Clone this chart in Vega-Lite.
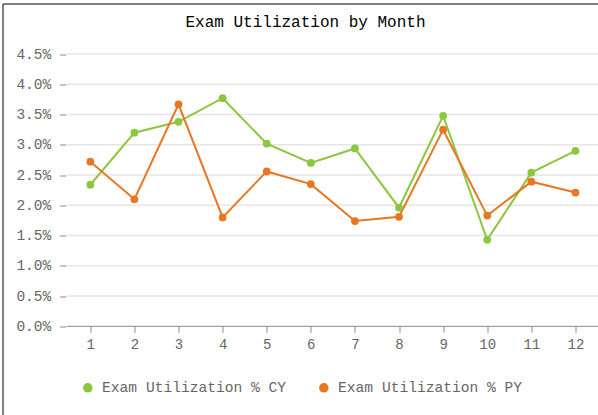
{
  "$schema": "https://vega.github.io/schema/vega-lite/v6.json",
  "autosize": {"type": "none"},
  "padding": {"left": 2.5, "top": 3.5, "right": -4.5, "bottom": -4.5},
  "width": 600,
  "height": 416,
  "background": "white",
  "title": {
    "text": "Exam Utilization by Month",
    "font": "Liberation Mono",
    "fontSize": 16,
    "fontWeight": "normal",
    "color": "#000000",
    "anchor": "middle",
    "baseline": "alphabetic",
    "offset": -39,
    "dx": 3
  },
  "config": {
    "view": {"stroke": "#000000", "strokeWidth": 1},
    "legend": {
      "symbolType": "circle",
      "labelFont": "Liberation Mono",
      "labelFontSize": 14.6,
      "labelColor": "#666666",
      "labelLimit": 0,
      "symbolSize": 90,
      "symbolStrokeWidth": 0,
      "labelOffset": 7,
      "columnPadding": 30,
      "padding": 0
    }
  },
  "layer": [
    {
      "data": {"values": [
        {"g": 0.005}, {"g": 0.01}, {"g": 0.015}, {"g": 0.02}, {"g": 0.025},
        {"g": 0.03}, {"g": 0.035}, {"g": 0.04}, {"g": 0.045}
      ]},
      "mark": {"type": "rule", "color": "#e6e6e6", "strokeWidth": 1.5},
      "encoding": {
        "y": {"field": "g", "type": "quantitative", "title": null,
              "scale": {"domain": [-0.015405, 0.053355], "nice": false, "zero": false}},
        "x": {"datum": 0.46, "type": "quantitative", "scale": {"domain": [-0.991, 12.614], "nice": false, "zero": false}},
        "x2": {"datum": 12.614}
      }
    },
    {
      "data": {"values": [{"z": 0}]},
      "mark": {"type": "rule", "color": "#888888", "strokeWidth": 1},
      "encoding": {
        "y": {"field": "z", "type": "quantitative", "title": null,
              "scale": {"domain": [-0.015405, 0.053355], "nice": false, "zero": false}},
        "x": {"datum": 0.46, "type": "quantitative", "scale": {"domain": [-0.991, 12.614], "nice": false, "zero": false}},
        "x2": {"datum": 12.614}
      }
    },
    {
      "data": {"name": "series"},
      "layer": [
        {
          "mark": {"type": "line", "strokeWidth": 2},
          "encoding": {
            "x": {"field": "month", "type": "quantitative", "title": null,
                  "scale": {"domain": [-0.991, 12.614], "nice": false, "zero": false},
                  "axis": {"orient": "bottom", "offset": -93.2, "values": [1,2,3,4,5,6,7,8,9,10,11,12], "format": "d",
                           "domain": false, "grid": false, "ticks": true, "tickSize": 6, "tickColor": "#888888",
                           "labelFont": "Liberation Mono", "labelFontSize": 14, "labelColor": "#666666", "labelPadding": 5}},
            "y": {"field": "value", "type": "quantitative", "title": null,
                  "scale": {"domain": [-0.015405, 0.053355], "nice": false, "zero": false},
                  "axis": {"orient": "left", "offset": -63.2, "values": [0,0.005,0.01,0.015,0.02,0.025,0.03,0.035,0.04,0.045], "format": ".1%",
                           "domain": false, "grid": false, "ticks": true, "tickSize": 6, "tickColor": "#888888",
                           "labelFont": "Liberation Mono", "labelFontSize": 14.5, "labelColor": "#666666", "labelPadding": 9}},
            "color": {"field": "series", "type": "nominal",
                      "scale": {"domain": ["Exam Utilization % CY", "Exam Utilization % PY"], "range": ["#8dc63f", "#e87722"]},
                      "legend": {"orient": "none", "legendX": 78, "legendY": 377, "direction": "horizontal", "title": null}}
          }
        },
        {
          "mark": {"type": "point", "filled": true, "size": 60, "opacity": 1},
          "encoding": {
            "x": {"field": "month", "type": "quantitative", "title": null, "scale": {"domain": [-0.991, 12.614], "nice": false, "zero": false}},
            "y": {"field": "value", "type": "quantitative", "title": null, "scale": {"domain": [-0.015405, 0.053355], "nice": false, "zero": false}},
            "color": {"field": "series", "type": "nominal",
                      "scale": {"domain": ["Exam Utilization % CY", "Exam Utilization % PY"], "range": ["#8dc63f", "#e87722"]}}
          }
        }
      ]
    }
  ],
  "datasets": {
    "series": [
      {"month": 1, "series": "Exam Utilization % CY", "value": 0.0234},
      {"month": 2, "series": "Exam Utilization % CY", "value": 0.0320},
      {"month": 3, "series": "Exam Utilization % CY", "value": 0.0338},
      {"month": 4, "series": "Exam Utilization % CY", "value": 0.0377},
      {"month": 5, "series": "Exam Utilization % CY", "value": 0.0302},
      {"month": 6, "series": "Exam Utilization % CY", "value": 0.0270},
      {"month": 7, "series": "Exam Utilization % CY", "value": 0.0294},
      {"month": 8, "series": "Exam Utilization % CY", "value": 0.0196},
      {"month": 9, "series": "Exam Utilization % CY", "value": 0.0348},
      {"month": 10, "series": "Exam Utilization % CY", "value": 0.0143},
      {"month": 11, "series": "Exam Utilization % CY", "value": 0.0254},
      {"month": 12, "series": "Exam Utilization % CY", "value": 0.0290},
      {"month": 1, "series": "Exam Utilization % PY", "value": 0.0272},
      {"month": 2, "series": "Exam Utilization % PY", "value": 0.0210},
      {"month": 3, "series": "Exam Utilization % PY", "value": 0.0367},
      {"month": 4, "series": "Exam Utilization % PY", "value": 0.0180},
      {"month": 5, "series": "Exam Utilization % PY", "value": 0.0256},
      {"month": 6, "series": "Exam Utilization % PY", "value": 0.0235},
      {"month": 7, "series": "Exam Utilization % PY", "value": 0.0174},
      {"month": 8, "series": "Exam Utilization % PY", "value": 0.0181},
      {"month": 9, "series": "Exam Utilization % PY", "value": 0.0325},
      {"month": 10, "series": "Exam Utilization % PY", "value": 0.0183},
      {"month": 11, "series": "Exam Utilization % PY", "value": 0.0239},
      {"month": 12, "series": "Exam Utilization % PY", "value": 0.0221}
    ]
  }
}
